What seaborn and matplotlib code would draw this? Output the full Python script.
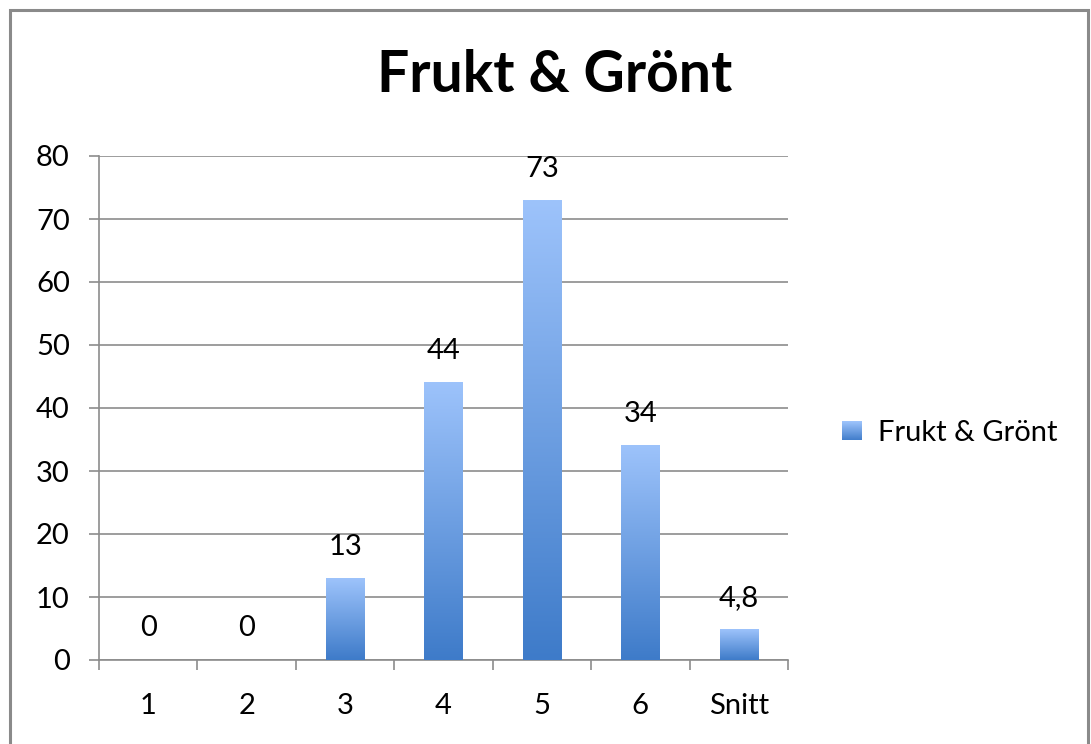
import matplotlib
matplotlib.use("Agg")
import matplotlib.pyplot as plt
import numpy as np
import pandas as pd
import seaborn as sns
from matplotlib.colors import LinearSegmentedColormap
from matplotlib.legend_handler import HandlerBase
from matplotlib.patches import Rectangle

# Data
categories = ['1', '2', '3', '4', '5', '6', 'Snitt']
values = [0, 0, 13, 44, 73, 34, 4.8]
value_labels = ['0', '0', '13', '44', '73', '34', '4,8']
series_name = 'Frukt & Grönt'
y_ticks = [0, 10, 20, 30, 40, 50, 60, 70, 80]

df = pd.DataFrame({'cat': categories, 'val': values})

sns.set_style('white')
plt.rcParams['font.family'] = ['Lato', 'DejaVu Sans']
plt.rcParams['text.color'] = 'black'
plt.rcParams['xtick.labelcolor'] = 'black'
plt.rcParams['ytick.labelcolor'] = 'black'

top_col = '#9dc3fb'
bot_col = '#3e7bc9'
grad_cmap = LinearSegmentedColormap.from_list('bar_grad', [bot_col, top_col])
grid_col = '#8c8c8c'
fs = 21

fig = plt.figure(figsize=(10.91, 7.44), dpi=100)
ax = fig.add_axes([99 / 1091, 84 / 744, 689 / 1091, 504 / 744])

sns.barplot(data=df, x='cat', y='val', ax=ax, width=0.39, color=bot_col,
            order=categories)

# replace each flat bar by a vertical gradient of its own height
grad = np.linspace(0, 1, 256).reshape(-1, 1)
for p, lab in zip(ax.patches, value_labels):
    x0, w, h = p.get_x(), p.get_width(), p.get_height()
    p.set_visible(False)
    if h > 0:
        ax.imshow(grad, extent=[x0, x0 + w, 0, h], origin='lower',
                  cmap=grad_cmap, aspect='auto', zorder=3)
    ax.text(x0 + w / 2, h + 5.0, lab, ha='center', va='center',
            fontsize=fs, color='black', zorder=4)
ax.set_xlim(-0.5, len(categories) - 0.5)
ax.set_ylim(0, 80)

# gridlines
ax.set_yticks(y_ticks)
ax.yaxis.grid(True, color=grid_col, linewidth=1.2)
ax.xaxis.grid(False)
ax.set_axisbelow(True)

# x ticks between categories, labels in the middle
ax.set_xticks(np.arange(-0.5, len(categories), 1.0))
ax.set_xticklabels([])
ax.set_xticks(np.arange(len(categories)), minor=True)
ax.set_xticklabels(categories, minor=True, fontsize=fs)
ax.tick_params(axis='x', which='major', length=7, width=1.2, color=grid_col,
               direction='out', bottom=True)
ax.tick_params(axis='x', which='minor', length=0, pad=24)
ax.tick_params(axis='y', length=7, width=1.2, color=grid_col, direction='out',
               left=True, labelsize=fs, pad=14)

ax.set_xlabel('')
ax.set_ylabel('')
for s in ['top', 'right']:
    ax.spines[s].set_visible(False)
for s in ['left', 'bottom']:
    ax.spines[s].set_color(grid_col)
    ax.spines[s].set_linewidth(1.2)

fig.text(555 / 1091, 1 - 76 / 744, series_name, ha='center', va='center',
         fontsize=41, fontweight='bold', color='black')


class GradientHandler(HandlerBase):
    def create_artists(self, legend, orig_handle, xdescent, ydescent,
                       width, height, fontsize, trans):
        n = 20
        side = height * 0.95
        x0 = -xdescent + (width - side) / 2
        y0 = -ydescent + (height - side) / 2
        arts = []
        for i in range(n):
            r = Rectangle((x0, y0 + side * i / n), side, side / n + 0.3,
                          facecolor=grad_cmap(i / (n - 1)), edgecolor='none',
                          transform=trans)
            arts.append(r)
        return arts


handle = Rectangle((0, 0), 1, 1)
fig.legend([handle], [series_name], handler_map={Rectangle: GradientHandler()},
           loc='center left', bbox_to_anchor=(820 / 1091, 1 - 433 / 744),
           frameon=False, fontsize=21, handlelength=0.8, handletextpad=0.5,
           borderpad=0.2)

# outer frame
fig.patches.append(Rectangle((10 / 1091, -0.05), 1078 / 1091, 1.05 - 10 / 744,
                             transform=fig.transFigure, fill=False,
                             edgecolor='#8a8a8a', linewidth=2.2))

fig.savefig('out.png', dpi=100)
